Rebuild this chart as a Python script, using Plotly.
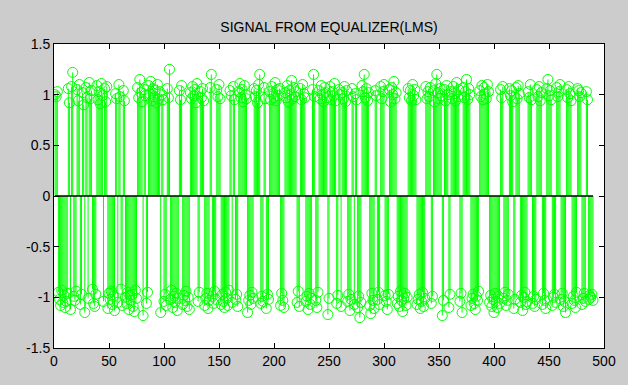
import plotly.graph_objects as go

title_text = "SIGNAL FROM EQUALIZER(LMS)"
x_ticks = [0, 50, 100, 150, 200, 250, 300, 350, 400, 450, 500]
x_tick_labels = ["0", "50", "100", "150", "200", "250", "300", "350", "400", "450", "500"]
y_ticks = [-1.5, -1, -0.5, 0, 0.5, 1, 1.5]
y_tick_labels = ["-1.5", "-1", "-0.5", "0", "0.5", "1", "1.5"]

# equalizer output samples (n = 1..490)
values = [
    1.00, 0.98, 1.03, -0.95, -1.02, -1.08, -0.93, -1.05, -0.98, -1.10,
    -1.04, -0.96, 1.06, 0.92, -1.12, 1.08, 1.22, -0.99, -1.03, -0.94,
    1.05, 0.94, 1.10, -1.07, -0.97, 1.02, 0.90, -1.15, 1.07, 0.97,
    -1.01, 1.12, 0.96, 1.04, -0.92, -1.06, -1.09, -0.97, 1.09, 0.95,
    1.03, 0.91, 1.11, 0.99, -1.04, 1.06, 0.93, 1.08, -1.11, -0.96,
    -1.02, -0.94, -1.07, -0.99, -1.13, 1.01, 0.96, -1.05, 1.10, 0.98,
    -0.92, -1.08, 1.04, 0.94, -1.00, -1.06, -0.95, -1.12, -0.98, -1.03,
    -0.97, -1.09, -1.14, -0.93, -1.01, 1.07, 0.97, 1.15, 1.02, 0.93,
    -1.18, 1.05, 0.99, -1.06, -0.95, 1.09, 1.01, 1.13, 0.94, 1.06,
    0.98, 1.04, 0.92, 1.10, 0.96, 1.03, -1.15, 1.00, 0.95, -1.04,
    -0.97, -1.08, 1.06, 0.97, 1.25, -1.02, -0.93, -1.10, -0.99, -1.05,
    -0.96, -1.13, -1.01, 1.04, 0.95, 1.09, -1.07, -0.98, -1.03, -0.94,
    -1.09, -1.00, -1.12, 1.02, 0.96, 1.08, 0.99, 1.05, 0.92, 1.11,
    -1.04, -0.95, 1.03, 0.97, 1.06, 0.94, -1.08, -1.01, -0.96, -1.11,
    -1.03, 1.07, 1.20, -0.99, -1.06, -0.94, -1.02, 1.05, 0.98, 1.10,
    0.96, -1.07, -0.97, -1.04, -1.10, -0.95, -1.01, -1.08, -0.93, 1.04,
    0.99, -1.05, 1.08, 0.95, -1.02, -0.97, -1.09, 1.03, 1.11, 0.97,
    1.05, 0.93, 1.09, 1.00, 0.96, -1.15, -1.03, -0.98, -1.07, -0.95,
    -1.01, 1.06, 0.98, 1.04, 0.92, 1.10, 1.20, -1.06, -0.99, -1.04,
    1.07, 0.96, -1.11, -0.97, -1.02, 1.03, 0.95, 1.08, 1.01, 0.97,
    1.12, 0.94, 1.05, 0.99, 1.06, -1.08, -0.96, -1.03, -1.10, 1.02,
    0.97, 1.09, 0.93, 1.04, 1.00, 1.14, 0.96, 1.07, 0.98, 1.03,
    -1.05, -0.94, -1.09, 1.06, 0.95, 1.10, 1.01, 0.97, -1.04, -0.99,
    -1.12, -0.96, -1.07, -1.01, 1.05, 1.20, 0.98, -1.03, -1.10, -0.95,
    1.04, 0.96, 1.09, 1.00, 0.93, 1.07, 1.02, 0.97, -1.17, -1.01,
    1.08, 0.95, 1.03, 0.99, 1.11, 0.94, -1.06, -0.98, 1.05, 1.00,
    -1.09, 1.02, 0.96, 1.08, 0.93, 1.04, -1.04, -0.97, -1.13, -1.02,
    1.06, 0.98, -1.07, 1.01, 0.95, -1.10, -0.99, -1.20, -1.05, 1.09,
    1.03, 1.20, 0.97, 1.06, 0.94, 1.02, -1.08, -1.16, -0.96, -1.03,
    -1.11, 1.04, 0.99, -1.02, -0.95, -1.07, 1.08, 0.96, 1.03, 1.10,
    -0.98, -1.04, -1.12, -0.97, 1.05, 0.93, 1.07, 1.00, 1.13, 0.96,
    1.02, -1.06, -0.99, -1.09, -0.94, -1.03, -1.14, -1.01, -0.96, -1.08,
    -1.00, 1.06, 0.97, 1.04, 0.94, 1.10, 0.99, 1.05, 0.95, -1.07,
    -1.02, -0.97, -1.11, -1.04, -0.95, -1.09, -1.01, 1.08, 0.96, 1.03,
    0.98, 1.07, -1.06, -0.99, 1.04, 0.93, 1.11, 1.20, 1.02, 0.96,
    1.06, 0.99, -1.18, -1.03, 1.05, 0.94, 1.09, 1.00, -1.10, -0.97,
    1.03, 0.96, 1.08, 1.01, 0.94, 1.12, 0.98, 1.05, -1.04, -0.96,
    -1.15, 1.07, 0.97, 1.03, 1.15, 0.95, 1.06, 1.00, -1.08, -1.01,
    -0.97, -1.06, -1.12, -0.99, -1.03, -0.94, 1.04, 0.98, 1.09, 0.95,
    1.07, 1.01, 0.96, 1.10, 1.03, -1.05, -0.98, -1.09, -1.02, -1.15,
    -0.96, -1.04, -1.10, -0.99, -1.06, 1.05, 0.97, 1.08, -1.01, -0.95,
    -1.08, -1.03, -0.97, 1.06, 0.99, 1.04, 0.93, -1.11, -1.02, 1.07,
    0.96, 1.09, 1.01, -1.05, -0.98, -1.13, -1.00, -0.95, -1.07, -1.04,
    1.03, 0.97, 1.10, 0.95, -1.06, -0.99, -1.09, -1.02, 1.05, 0.98,
    1.08, 0.94, 1.02, -1.07, -0.96, -1.03, -1.11, 1.06, 1.15, 0.99,
    1.04, 0.95, -1.08, -1.00, -0.97, -1.05, 1.07, 0.98, 1.03, 1.10,
    -1.02, -0.96, -1.09, -1.04, -1.15, 1.05, 0.97, 1.08, 1.01, 0.94,
    -1.06, -0.99, -1.03, -1.10, -0.95, 1.06, 1.04, 0.98, 1.02, -1.07,
    -1.01, -0.96, -1.04, 1.03, 0.95, -1.02, -0.98, -1.00, -0.97, -1.03,
]
samples = list(range(1, len(values) + 1))

GREEN = "#00ff00"

stem_x, stem_y = [], []
for xi, yi in zip(samples, values):
    stem_x += [xi, xi, None]
    stem_y += [0, yi, None]

fig = go.Figure()
fig.add_trace(go.Scatter(x=stem_x, y=stem_y, mode="lines",
                         line=dict(color=GREEN, width=1), hoverinfo="skip",
                         showlegend=False))
fig.add_trace(go.Scatter(x=samples, y=values, mode="markers",
                         marker=dict(symbol="circle-open", size=10,
                                     color=GREEN, line=dict(width=1, color=GREEN)),
                         showlegend=False))
fig.add_trace(go.Scatter(x=[samples[0], samples[-1]], y=[0, 0], mode="lines",
                         line=dict(color="black", width=1.3), hoverinfo="skip",
                         showlegend=False))

axis_font = dict(family="Liberation Sans, Arial, sans-serif", size=14, color="black")
fig.update_layout(
    width=628, height=385,
    margin=dict(l=54, r=24, t=44, b=37),
    paper_bgcolor="#cccccc",
    plot_bgcolor="white",
    font=axis_font,
    title=dict(text=title_text, x=0.5 * (54 + 604) / 628, xanchor="center",
               y=1 - 27 / 385, yanchor="middle", yref="container",
               font=dict(family="Liberation Sans, Arial, sans-serif", size=14, color="black")),
    xaxis=dict(range=[0, 500], tickvals=x_ticks, ticktext=x_tick_labels,
               ticks="inside", ticklen=5, tickcolor="black", showline=True,
               linecolor="black", linewidth=1, mirror="ticks", showgrid=False,
               zeroline=False, fixedrange=True),
    yaxis=dict(range=[-1.5, 1.5], tickvals=y_ticks, ticktext=y_tick_labels,
               ticks="inside", ticklen=5, tickcolor="black", showline=True,
               linecolor="black", linewidth=1, mirror="ticks", showgrid=False,
               zeroline=False, fixedrange=True),
    showlegend=False,
)

fig.write_html("out.html")
